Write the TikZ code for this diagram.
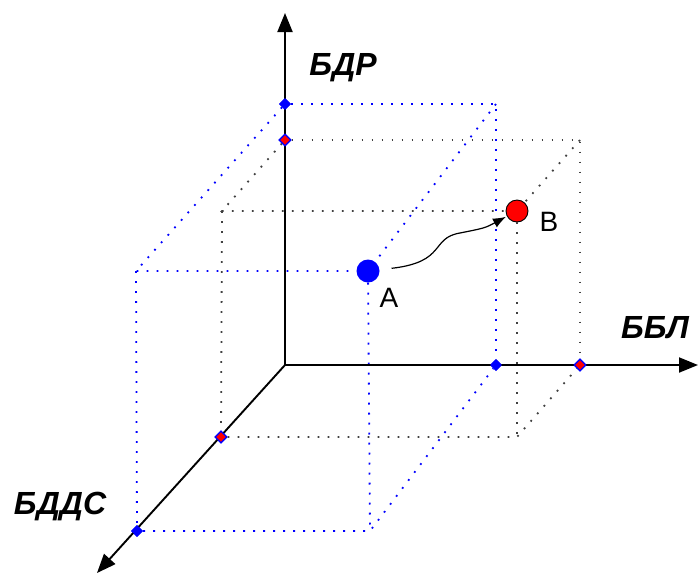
\documentclass[tikz,border=0pt]{standalone}
\usepackage{fontspec}
\setmainfont{Liberation Sans}
\usepackage{tikz}
\usetikzlibrary{arrows.meta,shapes.geometric}

\tikzset{
  axis/.style={line width=1.9pt,-{Triangle[length=19pt,width=15pt]}},
  bluedots/.style={blue,line width=1.8pt,dash pattern=on 1.8pt off 8.2pt},
  greydots/.style={black!75,line width=1.8pt,dash pattern=on 1.8pt off 8.2pt},
  bluemark/.style={diamond,fill=blue,inner sep=0pt,minimum size=12pt},
  redmark/.style={diamond,fill=red,draw=blue,line width=1.2pt,inner sep=0pt,minimum size=12pt},
  axislabel/.style={font=\fontsize{32}{38}\selectfont\bfseries\itshape},
  ptlabel/.style={font=\fontsize{28}{34}\selectfont}
}

\begin{document}
\begin{tikzpicture}[x=1pt,y=-1pt]
    \useasboundingbox (0,0) rectangle (699,574);
    % axes
    \coordinate (O) at (285,365);
    \coordinate (Ytip) at (285,13);
    \coordinate (Xtip) at (698,365);
    \coordinate (Ztip) at (97,573);
    % corners of the two boxes
    \coordinate (Q1) at (496,104);
    \coordinate (P) at (136,271);
    \coordinate (C) at (370,531);
    \coordinate (R1) at (580,140);
    \coordinate (R2) at (222,211);
    \coordinate (R3) at (517,437);
    % points on the axes
    \node[bluemark] (Yb) at (285,104) {};
    \node[bluemark] (Xb) at (496,365) {};
    \node[bluemark] (Zb) at (137,531) {};
    \node[redmark] (Yr) at (285,140) {};
    \node[redmark] (Xr) at (580,365) {};
    \node[redmark] (Zr) at (221,437) {};
    % the two states
    \node[circle,fill=blue,inner sep=0pt,minimum size=23pt] (A) at (368,271) {};
    \node[circle,fill=red,draw=black,line width=0.9pt,inner sep=0pt,minimum size=22pt] (B) at (517,211) {};
    \node[ptlabel] (labA) at (389,298) {A};
    \node[ptlabel] (labB) at (549,222) {B};
    % box of A
    \draw[bluedots] (Yb) -- (Q1) -- (Xb);
    \draw[bluedots] (Q1) -- (A);
    \draw[bluedots] (Yb) -- (P) -- (A);
    \draw[bluedots] (P) -- (Zb);
    \draw[bluedots] (Zb) -- (C) -- (Xb);
    \draw[bluedots] (A) -- (C);
    % box of B
    \draw[greydots] (Yr) -- (R1) -- (Xr);
    \draw[greydots] (R1) -- (B);
    \draw[greydots] (Yr) -- (R2) -- (B);
    \draw[greydots] (R2) -- (Zr);
    \draw[greydots] (Zr) -- (R3) -- (Xr);
    \draw[greydots] (B) -- (R3);
    \draw[axis] (O) -- (Ytip);
    \draw[axis] (O) -- (Xtip);
    \draw[axis] (O) -- (Ztip);
    % redraw the marks over the axes
    \node[bluemark] at (Yb) {};
    \node[bluemark] at (Xb) {};
    \node[bluemark] at (Zb) {};
    \node[redmark] at (Yr) {};
    \node[redmark] at (Xr) {};
    \node[redmark] at (Zr) {};
    % transition
    \draw[line width=1.2pt,-{Latex[length=13pt,width=10pt]},shorten <=12pt,shorten >=1pt]
        (A) .. controls (447,262) and (430,238) .. (460,233) .. controls (485,228) .. (B);
    \node[axislabel] (lY) at (343,68) {БДР};
    \node[axislabel] (lX) at (655,328) {ББЛ};
    \node[axislabel] (lZ) at (60,507) {БДДС};
\end{tikzpicture}
\end{document}
